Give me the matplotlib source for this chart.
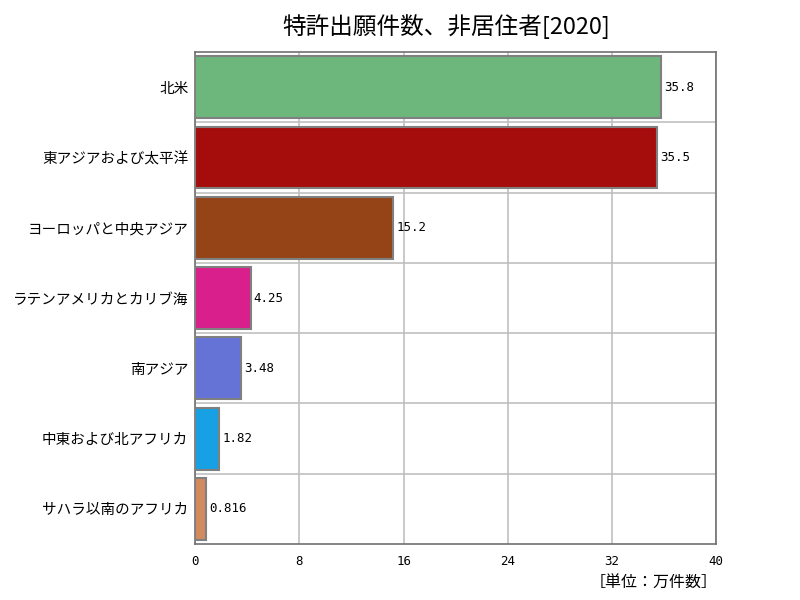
import matplotlib
matplotlib.use("Agg")
import matplotlib.pyplot as plt
import numpy as np

plt.rcParams['font.family'] = ['Noto Sans CJK JP', 'DejaVu Sans']

categories = ["北米", "東アジアおよび太平洋", "ヨーロッパと中央アジア",
              "ラテンアメリカとカリブ海", "南アジア", "中東および北アフリカ",
              "サハラ以南のアフリカ"]
values = [35.8, 35.5, 15.2, 4.25, 3.48, 1.82, 0.816]
value_labels = ["35.8", "35.5", "15.2", "4.25", "3.48", "1.82", "0.816"]
colors = ["#6db77d", "#a50d0d", "#944417", "#d91f8b", "#6673d6", "#17a0e3", "#d38a5e"]
xticks = [0, 8, 16, 24, 32, 40]

fig = plt.figure(figsize=(8, 6), dpi=100)
ax = fig.add_axes([0.244, 0.0933, 0.651, 0.82])

n = len(categories)
y = np.arange(n)
ax.barh(y, values, height=0.88, color=colors, edgecolor="#808080", linewidth=1.5, zorder=3)
for yi, v, lab in zip(y, values, value_labels):
    ax.text(v + 0.25, yi, lab, va="center", ha="left", fontsize=9,
            family=["DejaVu Sans Mono"], zorder=4)

ax.set_xlim(0, 40)
ax.set_ylim(n - 0.5, -0.5)
ax.set_yticks(y)
ax.set_yticklabels(categories, fontsize=10.5)
ax.set_xticks(xticks)
ax.set_xticklabels([str(t) for t in xticks], fontsize=9, family=["DejaVu Sans Mono"])
ax.set_yticks(np.arange(n - 1) + 0.5, minor=True)
ax.tick_params(axis="y", which="both", length=0, pad=5)
ax.tick_params(axis="x", length=0, pad=8)
ax.grid(axis="x", which="major", color="#c0c0c0", linewidth=1.2, zorder=0)
ax.grid(axis="y", which="minor", color="#c0c0c0", linewidth=1.2, zorder=0)
for s in ax.spines.values():
    s.set_color("#707070")
    s.set_linewidth(1.2)

fig.text(0.5575, 0.955, "特許出願件数、非居住者[2020]", ha="center", va="center", fontsize=17)
fig.text(0.897, 0.028, "［単位：万件数］", ha="right", va="center", fontsize=11.5)

fig.savefig("out.png", dpi=100)
